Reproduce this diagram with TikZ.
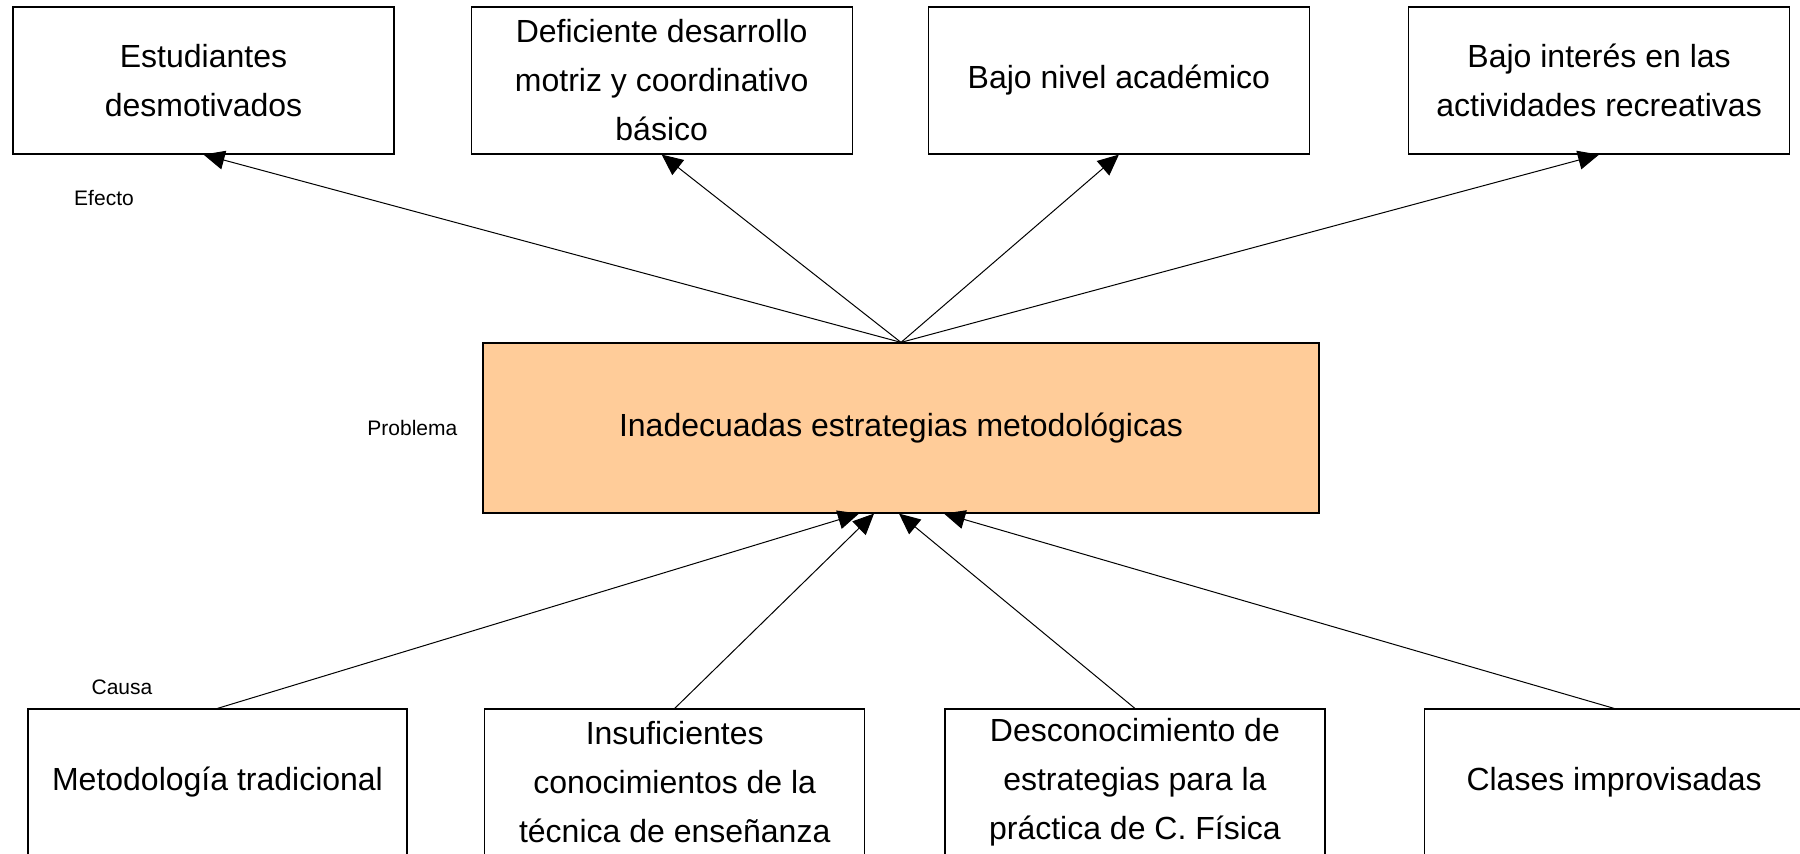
\documentclass[tikz,border=0pt]{standalone}
\usepackage{fontspec}
\setmainfont{Liberation Sans}
\usepackage{xcolor}
\definecolor{peach}{rgb}{1, 0.8, 0.6}
\usetikzlibrary{positioning,arrows.meta}

\begin{document}
\begin{tikzpicture}[->, >={Triangle[length=10.5pt,width=9.5pt]}, node distance=38pt, box/.style = {rectangle, draw, line width=0.6pt, inner sep=0pt, minimum width=190.5pt, minimum height=73.5pt, align=center, font=\fontsize{16}{24.5}\selectfont}, tag/.style = {font=\fontsize{10.5}{12}\selectfont}, every edge/.append style={line width=0.5pt}]

\clip (0,0) rectangle (900pt,-427pt);

% efectos
\node[box] (e1) at (101.75pt,-40.25pt) {Estudiantes\\desmotivados};
\node[box] (e2) [right=of e1] {Deficiente desarrollo\\motriz y coordinativo\\básico};
\node[box] (e3) [right=37.5pt of e2] {Bajo nivel académico};
\node[box] (e4) [right=49pt of e3] {Bajo interés en las\\actividades recreativas};

% problema
\node[box, fill=peach, minimum width=418pt, minimum height=85pt] (p) at (450.5pt,-214pt) {Inadecuadas estrategias metodológicas};

% causas
\node[box, minimum width=189.5pt] (c1) at (108.75pt,-391.25pt) {Metodología tradicional};
\node[box, minimum width=190pt] (c2) [right=38.25pt of c1] {Insuficientes\\conocimientos de la\\técnica de enseñanza};
\node[box, minimum width=190pt] (c3) [right=39.5pt of c2] {Desconocimiento de\\estrategias para la\\práctica de C. Física};
\node[box, minimum width=190pt] (c4) [right=49pt of c3] {Clases improvisadas};

\node[tag] (ef) at (52pt,-99pt) {Efecto};
\node[tag] (pr) [left=9pt of p] {Problema};
\node[tag] (ca) at (61pt,-343.5pt) {Causa};

\path
    (p.north) edge (e1.south)
    (p.north) edge (e2.south)
    (p.north) edge (e3.south)
    (p.north) edge (e4.south);
\path
    (c1.north) edge ([xshift=-21pt]p.south)
    (c2.north) edge ([xshift=-13.5pt]p.south)
    (c3.north) edge ([xshift=-1pt]p.south)
    (c4.north) edge ([xshift=21.5pt]p.south);
\end{tikzpicture}
\end{document}
